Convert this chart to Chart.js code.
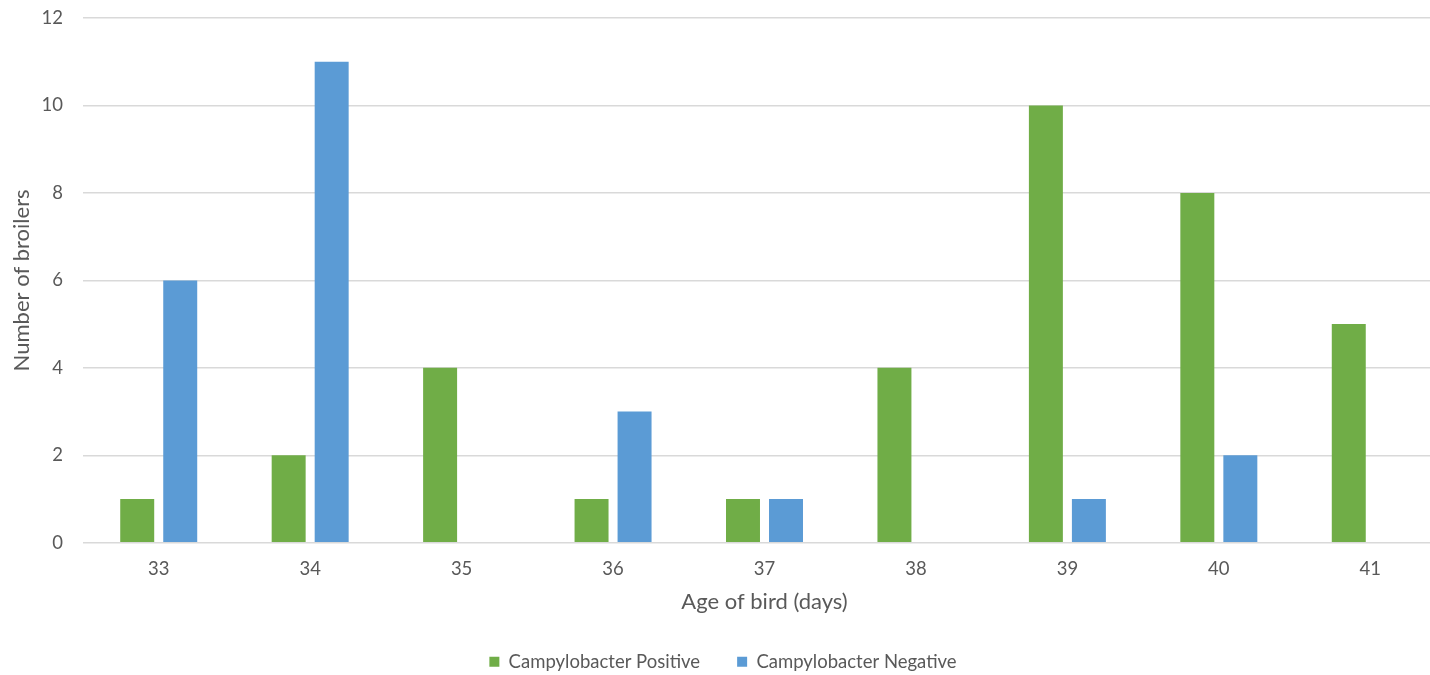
<!DOCTYPE html>
<html><head><meta charset="utf-8">
<script src="https://cdn.jsdelivr.net/npm/chart.js@4"></script>
<style>
html,body{margin:0;padding:0;background:#fff;overflow:hidden;width:1430px;height:675px;}
#wrap{position:absolute;left:0;top:0;width:1460px;height:681px;}
</style></head><body>
<div id="wrap"><canvas id="c" width="1460" height="681"></canvas></div>
<script>
const categories = ['33','34','35','36','37','38','39','40','41'];
const positive = [1,2,4,1,1,4,10,8,5];
const negative = [6,11,0,3,1,0,1,2,0];
const yTicks = [0,2,4,6,8,10,12];
const FONT = "Lato, 'Open Sans', sans-serif";
const TXT = '#595959';
new Chart(document.getElementById('c'), {
  type: 'bar',
  data: {
    labels: categories,
    datasets: [
      {label:'Campylobacter Positive', data: positive, backgroundColor:'#70AD47', categoryPercentage:0.568, barPercentage:0.79},
      {label:'Campylobacter Negative', data: negative, backgroundColor:'#5B9BD5', categoryPercentage:0.568, barPercentage:0.79}
    ]
  },
  options: {
    responsive:false, animation:false,
    layout:{padding:{top:18,right:14,left:0,bottom:0}},
    plugins:{
      tooltip:{enabled:false},
      legend:{position:'bottom', labels:{boxWidth:10, boxHeight:10, color:TXT, font:{family:FONT,size:18.5}, padding:37}}
    },
    scales:{
      x:{
        grid:{display:false, drawTicks:false}, border:{display:false},
        ticks:{color:TXT, font:{family:FONT,size:18.5}, padding:15},
        title:{display:true, text:'Age of bird (days)', color:TXT, font:{family:FONT,size:22}, padding:{top:0,bottom:0}},
        afterFit:(s)=>{s.height=72.75;}
      },
      y:{
        min:0, max:12,
        afterBuildTicks:(s)=>{s.ticks = yTicks.map(v=>({value:v}));},
        grid:{color:'#D9D9D9', lineWidth:1.5, drawTicks:false}, border:{display:false},
        ticks:{color:TXT, font:{family:FONT,size:18.5}, padding:20},
        title:{display:true, text:'Number of broilers', color:TXT, font:{family:FONT,size:22}, padding:{top:9,bottom:0}},
        afterFit:(s)=>{s.width=83; s.paddingTop=0; s.paddingBottom=0;}
      }
    }
  }
});
</script></body></html>
